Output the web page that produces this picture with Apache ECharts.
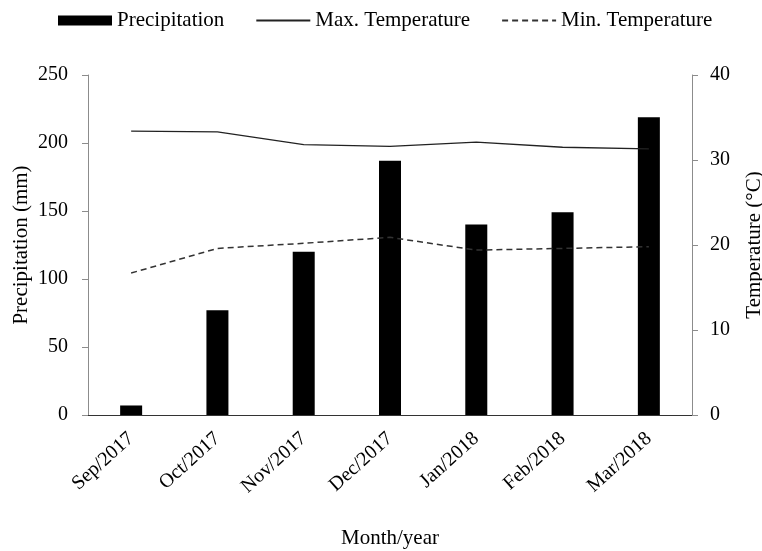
<!DOCTYPE html>
<html>
<head>
<meta charset="utf-8">
<script src="https://cdn.jsdelivr.net/npm/echarts@6/dist/echarts.min.js"></script>
<style>html,body{margin:0;padding:0;background:#fff}#c{width:762px;height:551px}</style>
</head>
<body>
<div id="c"></div>
<script>
const months = ['Sep/2017','Oct/2017','Nov/2017','Dec/2017','Jan/2018','Feb/2018','Mar/2018'];
const precipitation = [7, 77, 120, 187, 140, 149, 219];
const maxTemp = [33.4, 33.3, 31.8, 31.6, 32.1, 31.5, 31.3];
const minTemp = [16.7, 19.6, 20.2, 20.9, 19.4, 19.6, 19.8];
const leftTicks = {min: 0, max: 250, interval: 50};
const rightTicks = {min: 0, max: 40, interval: 10};

const F = 'Liberation Serif';
const yCol = '#8c8c8c';
const xCol = '#333';
const chart = echarts.init(document.getElementById('c'), null, {renderer: 'canvas'});
chart.setOption({
  animation: false,
  backgroundColor: '#fff',
  textStyle: {fontFamily: F, color: '#000'},
  legend: {
    left: 53, top: 5, itemGap: 31, itemWidth: 54, itemHeight: 10,
    textStyle: {fontFamily: F, fontSize: 21, color: '#000'},
    data: [
      {name: 'Precipitation', icon: 'rect'},
      {name: 'Max. Temperature', itemStyle: {opacity: 0}},
      {name: 'Min. Temperature', itemStyle: {opacity: 0}}
    ]
  },
  grid: {left: 88, right: 70, top: 75, bottom: 136, containLabel: false, outerBoundsMode: 'none'},
  xAxis: {
    type: 'category', data: months,
    axisLine: {lineStyle: {color: xCol}},
    axisTick: {lineStyle: {color: xCol}, length: 6},
    axisLabel: {rotate: 42, color: '#000', fontFamily: F, fontSize: 20, margin: 21},
    name: 'Month/year', nameLocation: 'middle', nameGap: 113, nameMoveOverlap: false,
    nameTextStyle: {fontFamily: F, fontSize: 21, color: '#000'}
  },
  yAxis: [
    {
      type: 'value', min: leftTicks.min, max: leftTicks.max, interval: leftTicks.interval,
      splitLine: {show: false},
      axisLine: {show: true, lineStyle: {color: yCol}},
      axisTick: {show: true, length: 6, lineStyle: {color: yCol}},
      axisLabel: {color: '#000', fontFamily: F, fontSize: 20, margin: 20},
      name: 'Precipitation (mm)', nameLocation: 'middle', nameGap: 56, nameRotate: 90, nameMoveOverlap: false,
      nameTextStyle: {fontFamily: F, fontSize: 21, color: '#000'}
    },
    {
      type: 'value', min: rightTicks.min, max: rightTicks.max, interval: rightTicks.interval,
      position: 'right',
      splitLine: {show: false},
      axisLine: {show: true, lineStyle: {color: yCol}},
      axisTick: {show: true, length: 6, lineStyle: {color: yCol}},
      axisLabel: {color: '#000', fontFamily: F, fontSize: 20, margin: 18},
      name: 'Temperature (°C)', nameLocation: 'middle', nameGap: 52, nameRotate: 90, nameMoveOverlap: false,
      nameTextStyle: {fontFamily: F, fontSize: 21, color: '#000'}
    }
  ],
  series: [
    {
      name: 'Precipitation', type: 'bar', data: precipitation, barWidth: 22,
      itemStyle: {color: '#000'}
    },
    {
      name: 'Max. Temperature', type: 'line', yAxisIndex: 1, data: maxTemp,
      symbol: 'none', lineStyle: {color: '#222', width: 1.3}, itemStyle: {color: '#222'}
    },
    {
      name: 'Min. Temperature', type: 'line', yAxisIndex: 1, data: minTemp,
      symbol: 'none', lineStyle: {color: '#333', width: 1.5, type: [6, 4]}, itemStyle: {color: '#333'}
    }
  ]
});
</script>
</body>
</html>
